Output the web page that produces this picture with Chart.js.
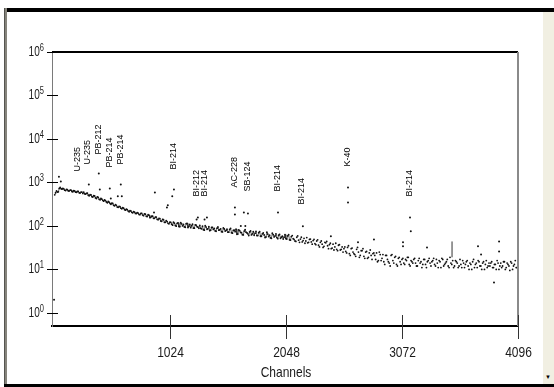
<!DOCTYPE html>
<html lang="en">
<head>
    <meta charset="UTF-8">
    <title>Gamma Spectrum</title>
    <style>
        body {
            margin: 0;
            padding: 0;
            background-color: #fff;
            font-family: "Liberation Sans", Arial, sans-serif;
        }

        #frame {
            position: relative;
            width: 554px;
            height: 387px;
            overflow: hidden;
        }

        .bar { position: absolute; }
        #topBar { left: 4px; top: 8px; width: 550px; height: 4px; background: #000; }
        #leftBar { left: 4px; top: 8px; width: 3px; height: 379px; background: #86847c; border-left: 1px solid #55544f; box-sizing: border-box; }
        #bottomBar { left: 4px; top: 384px; width: 550px; height: 3px; background: #000; }
        #scrollStrip { left: 543px; top: 12px; width: 11px; height: 372px; background: #f1efe2; }
        #scrollArrow { left: 545px; top: 374px; font-size: 6px; color: #000; }

        #spectrum {
            position: absolute;
            left: 0;
            top: 0;
        }
    </style>
</head>
<body>
    <div id="frame">
        <div class="bar" id="scrollStrip"></div>
        <div class="bar" id="scrollArrow">&#9660;</div>
        <div class="bar" id="topBar"></div>
        <div class="bar" id="leftBar"></div>
        <div class="bar" id="bottomBar"></div>
        <canvas id="spectrum" width="554" height="387"></canvas>
    </div>

    <script src="https://cdn.jsdelivr.net/npm/chart.js"></script>
    <script>
        // continuum counts, one value every 16 channels starting at channel 8
        const CH_START = 8;
        const CH_STEP = 16;
        const counts = [
            520, 640, 610, 770, 700, 715, 650, 680, 640, 665, 610, 640, 595, 625, 570, 600,
            595, 540, 568, 495, 515, 462, 490, 428, 452, 400, 415, 372, 384, 340, 352, 315,
            328, 290, 298, 268, 276, 248, 256, 230, 236, 212, 222, 200, 208, 193, 198, 182,
            195, 172, 186, 165, 176, 158, 167, 150, 160, 139, 148, 128, 139, 121, 126, 112,
            121, 104, 116, 99, 118, 96, 112, 108, 93, 114, 98, 91, 110, 89, 104, 94,
            103, 86, 82, 101, 84, 96, 80, 93, 88, 75, 95, 81, 74, 90, 76, 84,
            72, 88, 68, 80, 84, 65, 78, 70, 62, 82, 69, 60, 77, 66, 61, 75,
            60, 74, 58, 69, 54, 72, 57, 53, 68, 56, 66, 51, 64, 55, 50, 63,
            50, 63, 47, 60, 49, 44, 59, 42, 55, 46, 40, 54, 42, 50, 38, 49,
            37, 48, 33, 45, 32, 42, 44, 30, 40, 31, 28, 40, 27, 37, 29, 25,
            33, 24, 35, 21, 31, 23, 20, 32, 19, 27, 30, 18, 26, 19, 28, 17,
            24, 17, 15, 25, 16, 22, 13, 21, 15, 12, 22, 14, 20, 12, 19, 13,
            18, 13, 16, 19, 12, 15, 17, 14, 12, 18, 15, 13, 17, 11, 16, 14,
            15, 18, 12, 14, 16, 11, 17, 13, 15, 12, 19, 13, 11, 16, 14, 12,
            13, 16, 11, 15, 12, 14, 10, 17, 13, 11, 15, 12, 14, 10, 16, 12,
            12, 15, 11, 13, 16, 10, 14, 12, 15, 11, 13, 9.5, 14, 12, 16, 11
        ];
        // second pass of the continuum, shifted half a step (channel 16, 32, ...)
        const countsB = [
            580, 600, 730, 720, 730, 665, 690, 640, 668, 620, 645, 598, 620, 578, 600, 560,
            548, 560, 508, 525, 470, 495, 440, 468, 410, 430, 388, 395, 355, 365, 330, 334,
            298, 308, 272, 282, 256, 262, 238, 243, 220, 226, 206, 213, 194, 202, 184, 194,
            178, 190, 166, 181, 155, 168, 150, 160, 142, 150, 130, 142, 121, 133, 115, 122,
            110, 122, 103, 115, 97, 119, 100, 95, 113, 92, 108, 101, 89, 106, 96, 88,
            88, 99, 80, 94, 86, 78, 92, 83, 77, 89, 80, 86, 73, 85, 79, 72,
            83, 70, 79, 74, 64, 81, 71, 63, 76, 72, 66, 73, 62, 74, 68, 60,
            70, 58, 66, 62, 56, 65, 61, 52, 63, 59, 54, 61, 52, 58, 55, 51,
            59, 48, 57, 51, 45, 55, 47, 50, 43, 52, 45, 41, 49, 43, 46, 39,
            45, 36, 42, 38, 34, 41, 35, 37, 30, 38, 33, 29, 36, 28, 33, 30,
            26, 32, 23, 30, 25, 22, 29, 25, 21, 27, 20, 25, 18, 24, 21, 23,
            21, 24, 16, 22, 18, 15, 21, 17, 14, 21, 16, 19, 13, 18, 15, 17,
            14, 17, 19, 13, 16, 14, 18, 12, 16, 14, 11, 17, 13, 15, 18, 12,
            16, 13, 17, 11, 15, 18, 12, 14, 17, 11, 14, 16, 12, 15, 11, 17,
            11, 14, 13, 16, 10, 13, 15, 11, 14, 16, 12, 10, 15, 13, 11, 14,
            14, 11, 13, 10, 14, 12, 11, 15, 10, 14, 12, 15, 10, 13, 11, 13
        ];

        // isolated peak channels sitting above the continuum
        const peakChannels = [2, 45, 62, 309, 397, 406, 494, 503, 565, 591, 600, 884, 892, 998, 1006, 1045, 1060,
            1260, 1271, 1330, 1351, 1598, 1598, 1650, 1677, 1690, 1713, 1978, 2198, 2445, 2596, 2596, 2684,
            2825, 3081, 3081, 3143, 3150, 3293, 3743, 3770, 3884, 3929, 3929];
        const peakCounts = [2, 1350, 1050, 900, 1610, 690, 730, 430, 480, 900, 480, 205, 590, 266, 300, 480, 690,
            140, 157, 140, 157, 266, 184, 100, 205, 100, 194, 205, 98, 58, 770, 346, 42,
            49, 42, 34, 157, 75, 32, 34, 22, 5, 44, 26];

        // short vertical spike near channel 3514
        const spikeChannels = [3514, 3514];
        const spikeCounts = [19, 44];

        // nuclide labels: text, channel, count at the foot of the label
        const nuclides = ['U-235', 'U-235', 'PB-212', 'PB-214', 'PB-214', 'BI-214', 'BI-212', 'BI-214',
            'AC-228', 'SB-124', 'BI-214', 'BI-214', 'K-40', 'BI-214'];
        const nuclideChannels = [212, 300, 397, 494, 591, 1060, 1263, 1333, 1598, 1713, 1978, 2190, 2596, 3143];
        const nuclideCounts = [1790, 2590, 4400, 2210, 2590, 1990, 476, 476, 770, 620, 620, 312, 2330, 476];

        const xTicks = [1024, 2048, 3072, 4096];
        const yPowers = [0, 1, 2, 3, 4, 5, 6];
        const xTitle = 'Channels';

        const FONT = '"Liberation Sans", Arial, sans-serif';

        // interleave both passes so the line zig-zags like the original trace
        const continuum = [];
        counts.forEach((c, i) => {
            continuum.push({ x: CH_START + i * CH_STEP, y: c });
            continuum.push({ x: CH_START + i * CH_STEP + CH_STEP / 2, y: countsB[i] });
        });
        const peaks = peakChannels.map((c, i) => ({ x: c, y: peakCounts[i] }));
        const spike = spikeChannels.map((c, i) => ({ x: c, y: spikeCounts[i] }));

        // narrow text: the original uses a condensed sans
        function narrowText(ctx, text, x, y, size, squeeze, align) {
            ctx.save();
            ctx.font = size + 'px ' + FONT;
            ctx.textAlign = align;
            ctx.textBaseline = 'middle';
            ctx.translate(x, y);
            ctx.scale(squeeze, 1);
            ctx.fillText(text, 0, 0);
            const w = ctx.measureText(text).width * squeeze;
            ctx.restore();
            return w;
        }

        const spectrumDecor = {
            id: 'spectrumDecor',
            afterDraw(chart) {
                const ctx = chart.ctx;
                const area = chart.chartArea;
                const xs = chart.scales.x;
                const ys = chart.scales.y;
                ctx.save();

                // top and right borders of the plot box
                ctx.strokeStyle = '#000';
                ctx.lineWidth = 2;
                ctx.beginPath();
                ctx.moveTo(area.left, area.top);
                ctx.lineTo(area.right, area.top);
                ctx.stroke();
                ctx.strokeStyle = '#8a8a8a';
                ctx.beginPath();
                ctx.moveTo(area.right, area.top);
                ctx.lineTo(area.right, area.bottom);
                ctx.stroke();

                // y ticks crossing the axis, labels 10^n
                ctx.lineWidth = 1;
                ctx.strokeStyle = '#000';
                ctx.fillStyle = '#1a1a1a';
                yPowers.forEach(p => {
                    const y = Math.round(ys.getPixelForValue(Math.pow(10, p))) + 0.5;
                    ctx.beginPath();
                    ctx.moveTo(area.left - 5, y);
                    ctx.lineTo(p === 6 ? area.left : area.left + 6, y);
                    ctx.stroke();
                    const w = narrowText(ctx, String(p), area.left - 8, y - 4, 10, 0.75, 'right');
                    narrowText(ctx, '10', area.left - 8 - w, y, 14, 0.72, 'right');
                });

                // x ticks crossing the axis, with their labels
                ctx.strokeStyle = '#333';
                xTicks.forEach(t => {
                    const x = Math.round(xs.getPixelForValue(t)) + 0.5;
                    ctx.beginPath();
                    ctx.moveTo(x, area.bottom - 11);
                    ctx.lineTo(x, area.bottom + 13);
                    ctx.stroke();
                    narrowText(ctx, String(t), x, area.bottom + 27, 15, 0.8, 'center');
                });
                narrowText(ctx, xTitle, (area.left + area.right) / 2 + 1, area.bottom + 47, 15, 0.8, 'center');

                // rotated nuclide labels
                ctx.fillStyle = '#000';
                ctx.font = '9px ' + FONT;
                ctx.textAlign = 'left';
                ctx.textBaseline = 'middle';
                nuclides.forEach((name, i) => {
                    const x = xs.getPixelForValue(nuclideChannels[i]);
                    const y = ys.getPixelForValue(nuclideCounts[i]);
                    ctx.save();
                    ctx.translate(x, y);
                    ctx.rotate(-Math.PI / 2);
                    ctx.fillText(name, 0, 0);
                    ctx.restore();
                });

                ctx.restore();
            }
        };

        new Chart(document.getElementById('spectrum').getContext('2d'), {
            type: 'scatter',
            data: {
                datasets: [
                    {
                        data: continuum,
                        showLine: true,
                        borderColor: '#111',
                        borderWidth: 0.7,
                        segment: {
                            borderColor: c => c.p0.parsed.x > 2100 ? 'rgba(0,0,0,0)' : 'rgba(0,0,0,0.85)'
                        },
                        pointRadius: 0.9,
                        pointBackgroundColor: '#111',
                        pointBorderWidth: 0
                    },
                    {
                        data: peaks,
                        pointRadius: 1,
                        pointBackgroundColor: '#111',
                        pointBorderWidth: 0
                    },
                    {
                        data: spike,
                        showLine: true,
                        borderColor: '#333',
                        borderWidth: 1,
                        pointRadius: 0
                    }
                ]
            },
            options: {
                responsive: false,
                animation: false,
                layout: { padding: { top: 52, right: 36, left: 0, bottom: 0 } },
                plugins: { legend: { display: false }, tooltip: { enabled: false } },
                scales: {
                    x: {
                        type: 'linear',
                        min: -16,
                        max: 4096,
                        afterBuildTicks: s => { s.ticks = xTicks.map(v => ({ value: v })); },
                        afterFit: s => { s.height = 61; },
                        grid: { drawOnChartArea: false, drawTicks: false },
                        border: { color: '#000', width: 2 },
                        ticks: { display: false }
                    },
                    y: {
                        type: 'logarithmic',
                        min: 0.5,
                        max: 1e6,
                        afterBuildTicks: s => { s.ticks = yPowers.map(p => ({ value: Math.pow(10, p) })); },
                        afterFit: s => { s.width = 52; },
                        grid: { drawOnChartArea: false, drawTicks: false },
                        border: { color: '#7a7a7a', width: 1 },
                        ticks: { display: false }
                    }
                }
            },
            plugins: [spectrumDecor]
        });
    </script>
</body>
</html>
